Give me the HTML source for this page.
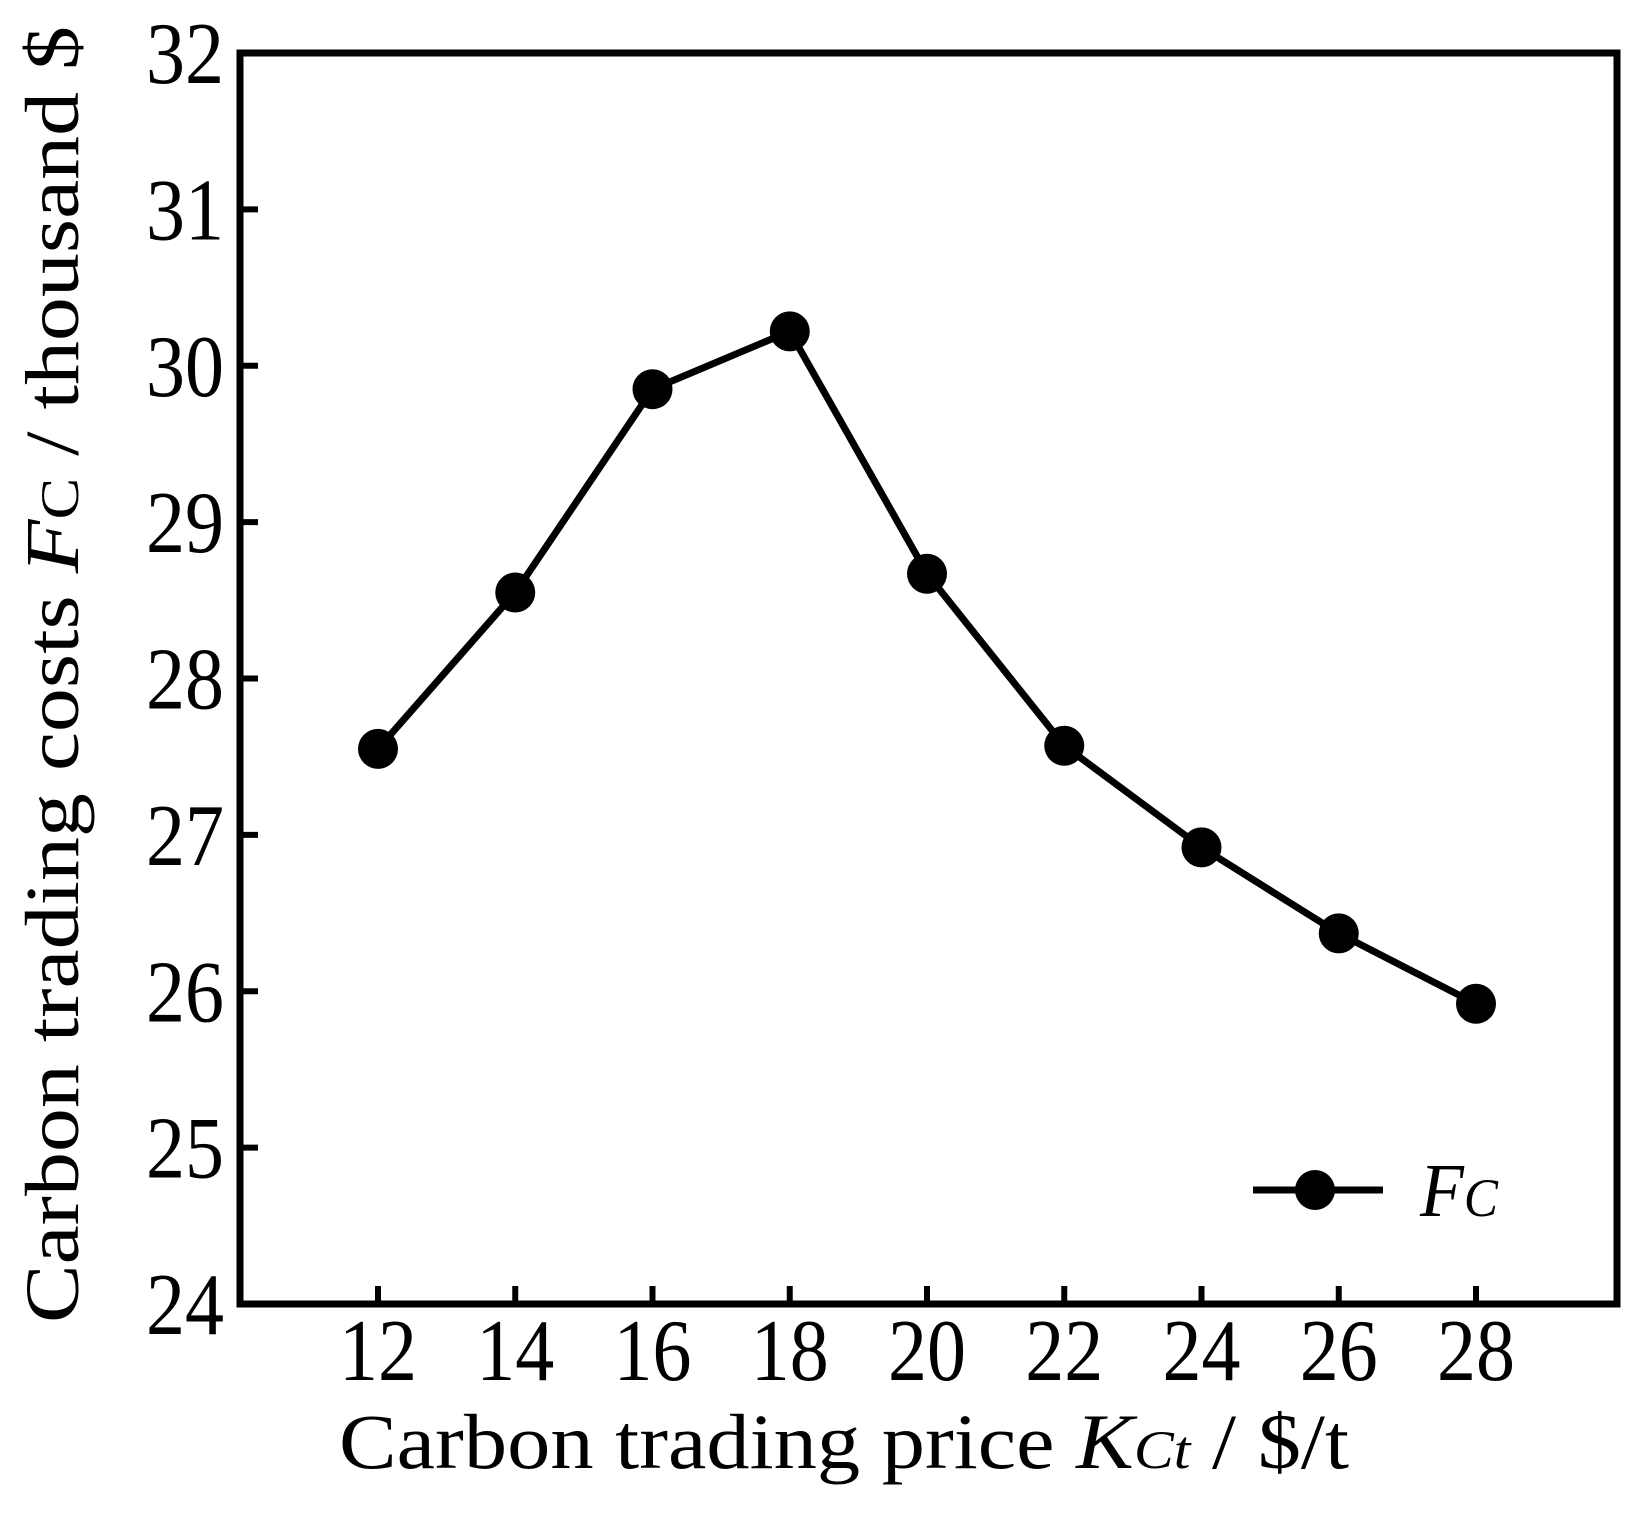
<!DOCTYPE html>
<html><head><meta charset="utf-8"><style>html,body{margin:0;padding:0;background:#fff}</style></head>
<body>
<svg id="chart" width="1632" height="1512" xmlns="http://www.w3.org/2000/svg" font-family="'Liberation Serif', serif">
<g id="g"></g>
</svg>
<script>
const categories = [12,14,16,18,20,22,24,26,28];
const seriesFc = [27.55,28.55,29.85,30.22,28.67,27.57,26.92,26.37,25.92];
const yTicks = [24,25,26,27,28,29,30,31,32];
const xTickLabels = ['12','14','16','18','20','22','24','26','28'];

const L=240,R=1617,T=53,B=1304;
const xs=v=>378+(v-12)*(1476-378)/16;
const ys=v=>B-(v-24)*(B-T)/8;
const NS='http://www.w3.org/2000/svg';
const g=document.getElementById('g');
function mk(tag,attrs,text){const e=document.createElementNS(NS,tag);for(const k in attrs)e.setAttribute(k,attrs[k]);if(text!==undefined)e.textContent=text;g.appendChild(e);return e;}

yTicks.forEach((t,i)=>{
  const tk=mk('line',{x1:L,x2:L+18,y1:ys(t),y2:ys(t),stroke:'#000','stroke-width':6});
  
  
  const lb=mk('text',{x:146,y:ys(t)+30,'font-size':88,textLength:78,lengthAdjust:'spacingAndGlyphs'},String(t));
  
  
});
categories.forEach((c,i)=>{
  const tk=mk('line',{x1:xs(c),x2:xs(c),y1:B,y2:B-18,stroke:'#000','stroke-width':6});
  
  
  const lb=mk('text',{x:xs(c)-39,y:1380,'font-size':88,textLength:78,lengthAdjust:'spacingAndGlyphs'},xTickLabels[i]);
  
  
});
const pts=categories.map((c,i)=>xs(c)+','+ys(seriesFc[i])).join(' ');
const pl=mk('polyline',{points:pts,fill:'none',stroke:'#000','stroke-width':7});


categories.forEach((c,i)=>{
  const p=mk('circle',{cx:xs(c),cy:ys(seriesFc[i]),r:20,fill:'#000'});
  
  
});
const fr=mk('rect',{x:L,y:T,width:R-L,height:B-T,fill:'none',stroke:'#000','stroke-width':7});



const ll=mk('line',{x1:1253,x2:1383,y1:1190,y2:1190,stroke:'#000','stroke-width':7});


const lm=mk('circle',{cx:1315,cy:1190,r:20,fill:'#000'});


const lt=mk('text',{x:1420,y:1216,'font-size':76,'font-style':'italic',textLength:78,lengthAdjust:'spacingAndGlyphs'});


lt.innerHTML='F<tspan font-size="54">C</tspan>';

const xt=mk('text',{x:339,y:1468,'font-size':78,textLength:1010,lengthAdjust:'spacingAndGlyphs'});


xt.innerHTML='Carbon trading price <tspan font-style="italic">K</tspan><tspan font-style="italic" font-size="54">Ct</tspan> / $/t';

const yt=mk('text',{x:0,y:0,'font-size':76,textLength:1297,lengthAdjust:'spacingAndGlyphs',transform:'translate(78,1323) rotate(-90)'});


yt.innerHTML='Carbon trading costs <tspan font-style="italic">F</tspan><tspan font-size="54">C</tspan>  / thousand $';
</script>
</body></html>
